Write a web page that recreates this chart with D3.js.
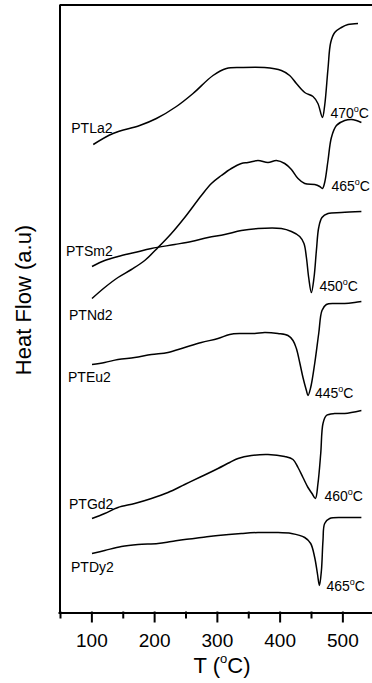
<!DOCTYPE html>
<html>
<head>
<meta charset="utf-8">
<script src="https://cdn.jsdelivr.net/npm/d3@7/dist/d3.min.js"></script>
<style>
  body { margin: 0; background: #fff; }
  svg { display: block; font-family: "Liberation Sans", Arial, sans-serif; }
  .axis path, .axis line { stroke: #000; stroke-width: 2; stroke-linecap: square; }
  .axis text { font-size: 19px; fill: #000; font-family: "Liberation Sans", Arial, sans-serif; }
  .curve { fill: none; stroke: #000; stroke-width: 1.5; }
  .lbl { font-size: 14px; fill: #000; }
</style>
</head>
<body>
<div id="chart"></div>
<script>
// DSC traces, [T (°C), heat flow (a.u., stacked)]
const la2 = [[103,46.8],[134.5,47.9],[177,48.7],[203.6,49.4],[235.5,50.6],[262,51.9],[293.8,53.7],[315.2,54.4],
  [339,54.5],[376,54.5],[402.8,54.2],[416,53.7],[426.7,52.9],[440,52.0],[453.2,51.6],[461,50.9],[468.2,49.5],
  [471.8,50.7],[477.1,54.4],[481.4,57.0],[487.8,58.0],[498.4,58.5],[509,58.8],[524.9,58.9]];
const sm2 = [[101,34.6],[121.2,35.2],[142.4,35.6],[169,36.0],[195.7,36.4],[232.8,36.8],[259.4,37.1],[285.9,37.5],
  [312.5,37.8],[339,38.2],[365.5,38.4],[402.8,38.4],[418.8,38.1],[432,37.6],[438.8,36.9],[442.7,35.5],[446.3,33.5],
  [450.6,32.0],[454.8,33.5],[458.6,36.2],[462.3,38.5],[467.5,39.5],[477.1,39.9],[498.4,40.0],[530.3,40.1]];
const nd2 = [[101,31.4],[121.2,32.5],[142.4,33.5],[163.8,34.3],[185,35.2],[206.2,36.5],[227.5,37.9],[248.7,39.5],
  [275.3,41.7],[291.3,42.9],[307.2,43.7],[323.1,44.4],[339,44.9],[349.6,45.0],[365.5,45.2],[381.5,45.0],[394.9,45.2],
  [408.1,44.9],[418.8,44.3],[429.3,43.4],[440,42.9],[455.9,42.8],[463.9,42.6],[468.2,42.4],[471.8,43.0],[477.1,45.2],
  [482.5,47.5],[490.5,48.7],[503.7,49.2],[514.4,49.3],[522.3,49.2],[530.3,49.0]];
const eu2 = [[101,24.8],[121.2,25.0],[142.4,25.3],[169,25.5],[195.7,25.8],[222.1,26.0],[248.7,26.5],[275.3,27.0],
  [301.8,27.4],[320.4,27.8],[339,27.9],[360.3,27.9],[376.2,28.0],[397.4,27.9],[413.3,27.7],[421.3,27.2],[426.7,26.4],
  [432,25.0],[437.2,23.5],[442.7,22.2],[445.2,21.7],[449.5,22.5],[455.9,24.9],[462.3,27.9],[467.5,30.2],[474.5,30.8],
  [487.8,30.9],[503.7,30.9],[519.6,31.0],[530.3,31.1]];
const gd2 = [[101,9.4],[121.2,9.9],[142.4,10.5],[169,10.9],[195.7,11.4],[222.1,12.0],[248.7,12.8],[275.3,13.6],
  [301.8,14.4],[320.4,15.0],[333.7,15.4],[355,15.7],[381.5,15.8],[408.1,15.6],[421.3,15.3],[429.3,14.5],[437.2,13.5],
  [445.2,12.5],[451.6,11.9],[457,11.4],[461.1,12.9],[465.5,15.9],[469.1,18.9],[474.5,19.7],[487.8,19.9],[503.7,19.9],
  [530.3,20.2]];
const dy2 = [[101,5.9],[121.2,6.2],[147.8,6.6],[174.3,6.8],[206.2,6.9],[227.5,7.1],[248.7,7.3],[275.3,7.5],
  [301.8,7.7],[339,7.9],[365.5,8.0],[392.1,8.0],[418.8,7.9],[440,7.5],[449.5,6.9],[455.9,5.5],[460.2,3.9],
  [463.4,2.7],[466.6,4.2],[469.1,7.2],[471.8,8.9],[479.8,9.4],[503.7,9.5],[530.3,9.5]];

const traces = [la2, nd2, sm2, eu2, gd2, dy2];
const names = ['PTLa2', 'PTNd2', 'PTSm2', 'PTEu2', 'PTGd2', 'PTDy2'];
const peaks = [470, 465, 450, 445, 460, 465];
const majorTicks = [100, 200, 300, 400, 500];
const minorTicks = [50, 150, 250, 350, 450];

// label offsets (px) from trace start / from the endothermic minimum
const nameOffsets = [[-22, -12], [-23, 21], [-26, -11], [-24, 17], [-23, -10], [-21, 18]];
const peakOffsets = [[8, 0], [9, 2], [8, -2], [7, 2], [9, 2], [7, 5]];

const width = 372, height = 683;
const svg = d3.select('#chart').append('svg')
  .attr('width', width)
  .attr('height', height);

const x = d3.scaleLinear().domain([50, 550]).range([60, 60 + 500 * 0.6275]);
const y = d3.scaleLinear().domain([0, 60.7]).range([612.5, 5.5]);

// frame: left + top lines
svg.append('g').attr('class', 'axis')
  .attr('transform', 'translate(59.5,0)')
  .call(d3.axisLeft(y).tickValues([]).tickSizeOuter(0));
svg.append('g').attr('class', 'axis')
  .attr('transform', `translate(0,${y.range()[1] - 1})`)
  .call(d3.axisTop(x).tickValues([]).tickSizeOuter(0));

// bottom axis, major + minor ticks
svg.append('g').attr('class', 'axis')
  .attr('transform', `translate(0,${y.range()[0]})`)
  .call(d3.axisBottom(x).tickValues(minorTicks).tickSize(5).tickSizeOuter(0).tickFormat(''));
svg.append('g').attr('class', 'axis')
  .attr('transform', `translate(0,${y.range()[0]})`)
  .call(d3.axisBottom(x).tickValues(majorTicks).tickSize(9).tickSizeOuter(0).tickPadding(12).tickFormat(d3.format('d')))
  .call(g => g.select('.domain').attr('d', `M${x(50) - 0.5},0.5H${width + 2}`));

const line = d3.line()
  .x(d => x(d[0]))
  .y(d => y(d[1]))
  .curve(d3.curveCatmullRom.alpha(0.5));

traces.forEach((t, i) => {
  svg.append('path').attr('class', 'curve').attr('d', line(t));

  const s = t[0];
  svg.append('text').attr('class', 'lbl')
    .attr('x', x(s[0]) + nameOffsets[i][0])
    .attr('y', y(s[1]) + nameOffsets[i][1])
    .text(names[i]);

  const m = d3.least(t.filter(d => d[0] > 400), d => d[1]);
  const pl = svg.append('text').attr('class', 'lbl')
    .attr('x', x(m[0]) + peakOffsets[i][0])
    .attr('y', y(m[1]) + peakOffsets[i][1]);
  pl.append('tspan').text(peaks[i]);
  pl.append('tspan').attr('font-size', 9).attr('dy', -6).text('o');
  pl.append('tspan').attr('dy', 6).text('C');
});

// axis titles
const xt = svg.append('text')
  .attr('x', 222).attr('y', 673)
  .attr('text-anchor', 'middle')
  .attr('font-size', 22);
xt.append('tspan').text('T (');
xt.append('tspan').attr('font-size', 13).attr('dy', -10).text('o');
xt.append('tspan').attr('dy', 10).text('C)');

svg.append('text')
  .attr('transform', 'translate(31,300) rotate(-90)')
  .attr('text-anchor', 'middle')
  .attr('font-size', 22)
  .text('Heat Flow (a.u)');
</script>
</body>
</html>
